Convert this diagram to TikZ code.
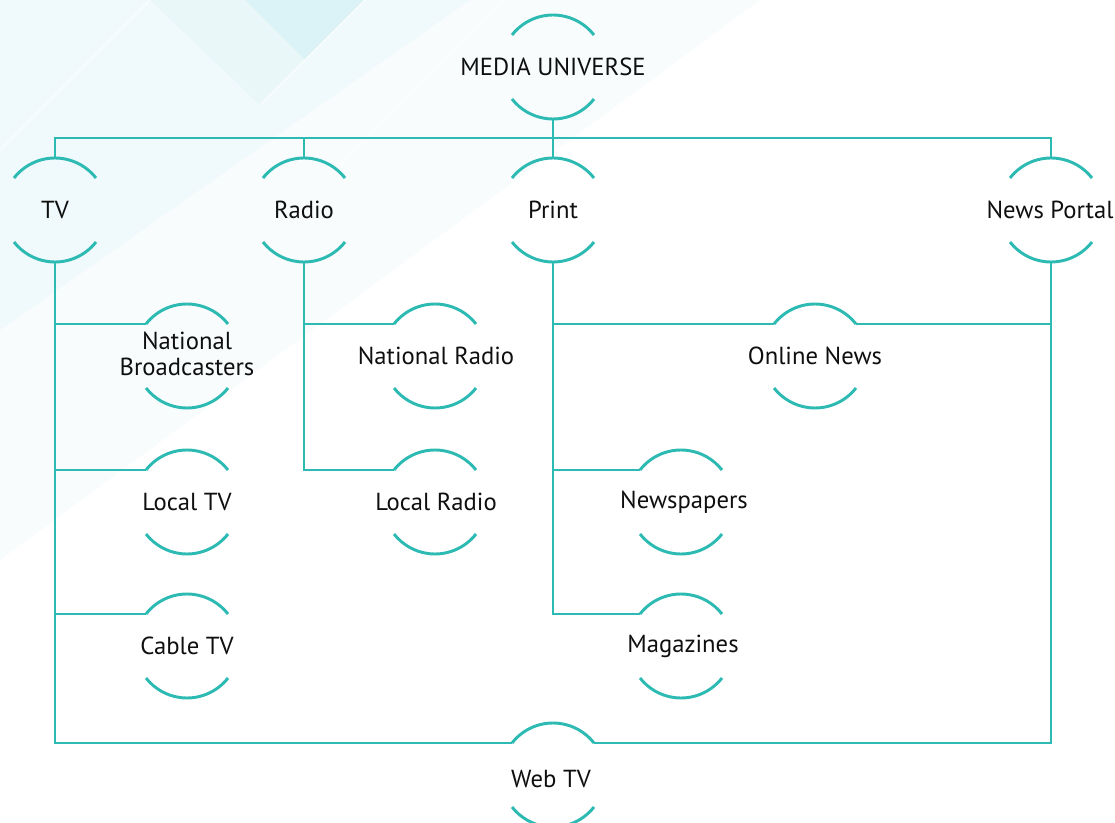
\documentclass[tikz,border=0pt]{standalone}
\usepackage{fontspec}
\setmainfont{PT Sans}
\definecolor{tealline}{RGB}{44,186,178}
\definecolor{bgtint}{RGB}{200,236,242}
\definecolor{labelcol}{RGB}{15,15,15}

\tikzset{every picture/.style={line width=0.75pt}}
\tikzset{
  lnk/.style={draw=tealline,line width=2.2pt},
  hub/.style={inner sep=0pt,text=labelcol,align=center,font=\fontsize{18.5}{20}\selectfont}
}

\begin{document}
\begin{tikzpicture}[x=0.75pt,y=0.75pt,yscale=-1,xscale=1]
		\useasboundingbox (0,0) rectangle (1115,823);

		%Background
		\fill[white] (0,0) rectangle (1115,823);
		\fill[bgtint,opacity=0.12] (0,0) -- (760,0) -- (0,560) -- cycle;
		\fill[bgtint,opacity=0.15] (0,0) -- (470,0) -- (0,330) -- cycle;
		\fill[bgtint,opacity=0.5] (245,0) -- (365,0) -- (305,60) -- cycle;
		\fill[bgtint,opacity=0.15] (150,0) -- (245,0) -- (305,60) -- (260,105) -- cycle;
		\draw[white,line width=1pt,opacity=0.8] (0,150) -- (150,0);
		\draw[white,line width=1pt,opacity=0.8] (260,105) -- (365,0);
		\draw[white,line width=1pt,opacity=0.6] (330,175) -- (505,0);

		% Text Node
		\node[hub] (mu) at (553,67) {MEDIA UNIVERSE};
		% Text Node
		\node[hub] (tv) at (55,210) {TV};
		% Text Node
		\node[hub] (radio) at (304,210) {Radio};
		% Text Node
		\node[hub] (print) at (553,210) {Print};
		% Text Node
		\node[hub] (portal) at (1050,210) {News Portal};
		% Text Node
		\node[hub] (natb) at (187,354) {National\\Broadcasters};
		% Text Node
		\node[hub] (natr) at (436,356) {National Radio};
		% Text Node
		\node[hub] (online) at (815,356) {Online News};
		% Text Node
		\node[hub] (loctv) at (187,502) {Local TV};
		% Text Node
		\node[hub] (locr) at (436,502) {Local Radio};
		% Text Node
		\node[hub] (news) at (684,502) {Newspapers};
		% Text Node
		\node[hub] (cable) at (187,646) {Cable TV};
		% Text Node
		\node[hub] (mag) at (683,646) {Magazines};
		% Text Node
		\node[hub] (webtv) at (551,779) {Web TV};

		%Arcs above and below each label
		\foreach \n/\a/\c in {mu/553/67,tv/55/210,radio/304/210,print/553/210,portal/1051/210,natb/187/356,natr/435/356,online/815/356,loctv/187/502,locr/435/502,news/681/502,cable/187/646,mag/681/646,webtv/553/775} {
			\coordinate (\n-c) at (\a,\c);
			\coordinate (\n-l) at ([shift={(218:52)}]\n-c);
			\coordinate (\n-r) at ([shift={(322:52)}]\n-c);
			\coordinate (\n-t) at ([shift={(270:52)}]\n-c);
			\coordinate (\n-b) at ([shift={(90:52)}]\n-c);
			\draw[lnk] (\n-l) arc (218:322:52);
			\draw[lnk] ([shift={(38:52)}]\n-c) arc (38:142:52);
		}

		%Straight Lines
		\coordinate (bus) at (553,138);
		\draw[lnk] (mu-b) -- (bus);
		\draw[lnk] (tv-t) |- (bus) -| (portal-t);
		\draw[lnk] (radio-t) -- (radio-t |- bus);
		\draw[lnk] (print-t) -- (bus);
		%Straight Lines
		\draw[lnk] (tv-b) |- (natb-l);
		\draw[lnk] (tv-b) |- (loctv-l);
		\draw[lnk] (tv-b) |- (cable-l);
		\draw[lnk] (tv-b) |- (webtv-l);
		%Straight Lines
		\draw[lnk] (radio-b) |- (natr-l);
		\draw[lnk] (radio-b) |- (locr-l);
		%Straight Lines
		\draw[lnk] (print-b) |- (online-l);
		\draw[lnk] (print-b) |- (news-l);
		\draw[lnk] (print-b) |- (mag-l);
		%Straight Lines
		\draw[lnk] (portal-b) |- (online-r);
		\draw[lnk] (portal-b) |- (webtv-r);

		\end{tikzpicture}
\end{document}
